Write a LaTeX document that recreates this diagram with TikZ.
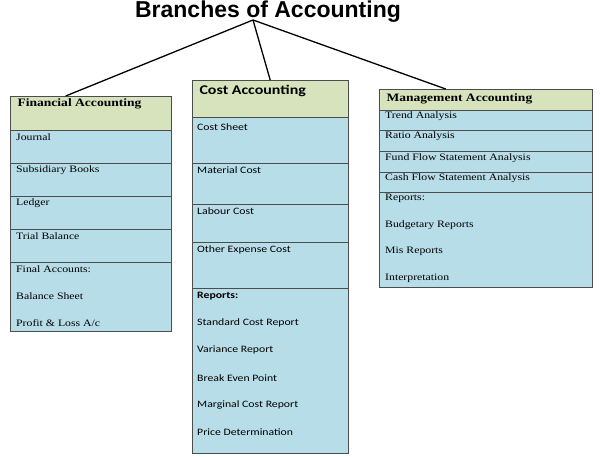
\documentclass[tikz,border=0pt]{standalone}
\usepackage{fontspec}
\setmainfont[FakeStretch=1.2]{Liberation Serif}
\newfontfamily\calfont[FakeStretch=1.2]{Carlito}
\newfontfamily\arialfont{Liberation Sans}
\definecolor{headgreen}{HTML}{D6E3BC}
\definecolor{rowblue}{HTML}{B7DDE8}
\tikzset{
  head/.style={draw=black!70, fill=headgreen, anchor=north west, inner sep=0pt},
  row/.style={draw=black!70, fill=rowblue},
  item/.style={anchor=west, inner sep=0pt, font=\fontsize{9.8}{11}\selectfont},
  citem/.style={anchor=west, inner sep=0pt, font=\calfont\fontsize{9.8}{11}\selectfont},
  link/.style={line width=1.3pt}
}
\begin{document}
\begin{tikzpicture}[x=1pt, y=-1pt]

\useasboundingbox (0,0) rectangle (600,457);

\node[font=\arialfont\bfseries\fontsize{23}{26}\selectfont] (title) at (268,12) {Branches of Accounting};
\coordinate (apex) at (253,20);

%% financial
\draw[row] (10,130) rectangle (171,331);
\draw[row] (10,163) -- (171,163) (10,196) -- (171,196) (10,229) -- (171,229) (10,262) -- (171,262);
\node[head, minimum width=161pt, minimum height=34pt] (fin) at (10,96) {};
\node[anchor=west, font=\bfseries\fontsize{11.3}{13}\selectfont] at (14,104) {Financial Accounting};
\node[item] (j) at (16,137) {Journal};
\node[item] (sb) at (16,170) {Subsidiary Books};
\node[item] (lg) at (16,203) {Ledger};
\node[item] (tb) at (16,236) {Trial Balance};
\node[item] (fa) at (16,269) {Final Accounts:};
\node[item] (bs) at (16,296) {Balance Sheet};
\node[item] (pl) at (16,323) {Profit \& Loss A/c};

%% cost
\draw[row] (192,117) rectangle (348,453);
\draw[row] (192,163) -- (348,163) (192,204) -- (348,204) (192,242) -- (348,242) (192,288) -- (348,288);
\node[head, minimum width=156pt, minimum height=37pt] (cost) at (192,80) {};
\node[anchor=west, font=\calfont\bfseries\fontsize{13.3}{15}\selectfont] at (196,91) {Cost Accounting};
\node[citem] (cs) at (197,127) {Cost Sheet};
\node[citem] (mc) at (197,170) {Material Cost};
\node[citem] (lc) at (197,211) {Labour Cost};
\node[citem] (oe) at (197,250) {Other Expense Cost};
\node[citem, font=\calfont\bfseries\fontsize{9.8}{11}\selectfont] (rp) at (197,296) {Reports:};
\node[citem] (sc) at (197,323) {Standard Cost Report};
\node[citem] (vr) at (197,350) {Variance Report};
\node[citem] (be) at (197,378) {Break Even Point};
\node[citem] (mr) at (197,405) {Marginal Cost Report};
\node[citem] (pd) at (197,432) {Price Determination};

%% management
\draw[row] (379,110) rectangle (592,287);
\draw[row] (379,130) -- (592,130) (379,151) -- (592,151) (379,172) -- (592,172) (379,192) -- (592,192);
\node[head, minimum width=213pt, minimum height=21pt] (mgmt) at (379,89) {};
\node[anchor=west, font=\bfseries\fontsize{11.3}{13}\selectfont] at (383,99) {Management Accounting};
\node[item] (ta) at (385,116) {Trend Analysis};
\node[item] (ra) at (385,136) {Ratio Analysis};
\node[item] (ff) at (385,158) {Fund Flow Statement Analysis};
\node[item] (cf) at (385,178) {Cash Flow Statement Analysis};
\node[item] (mrp) at (385,198) {Reports:};
\node[item] (br) at (385,225) {Budgetary Reports};
\node[item] (mis) at (385,251) {Mis Reports};
\node[item] (ip) at (385,278) {Interpretation};

\draw[link] (apex) -- ([xshift=-25pt]fin.north);
\draw[link] (apex) -- (cost.north);
\draw[link] (apex) -- ([xshift=-40pt]mgmt.north);

\end{tikzpicture}
\end{document}
